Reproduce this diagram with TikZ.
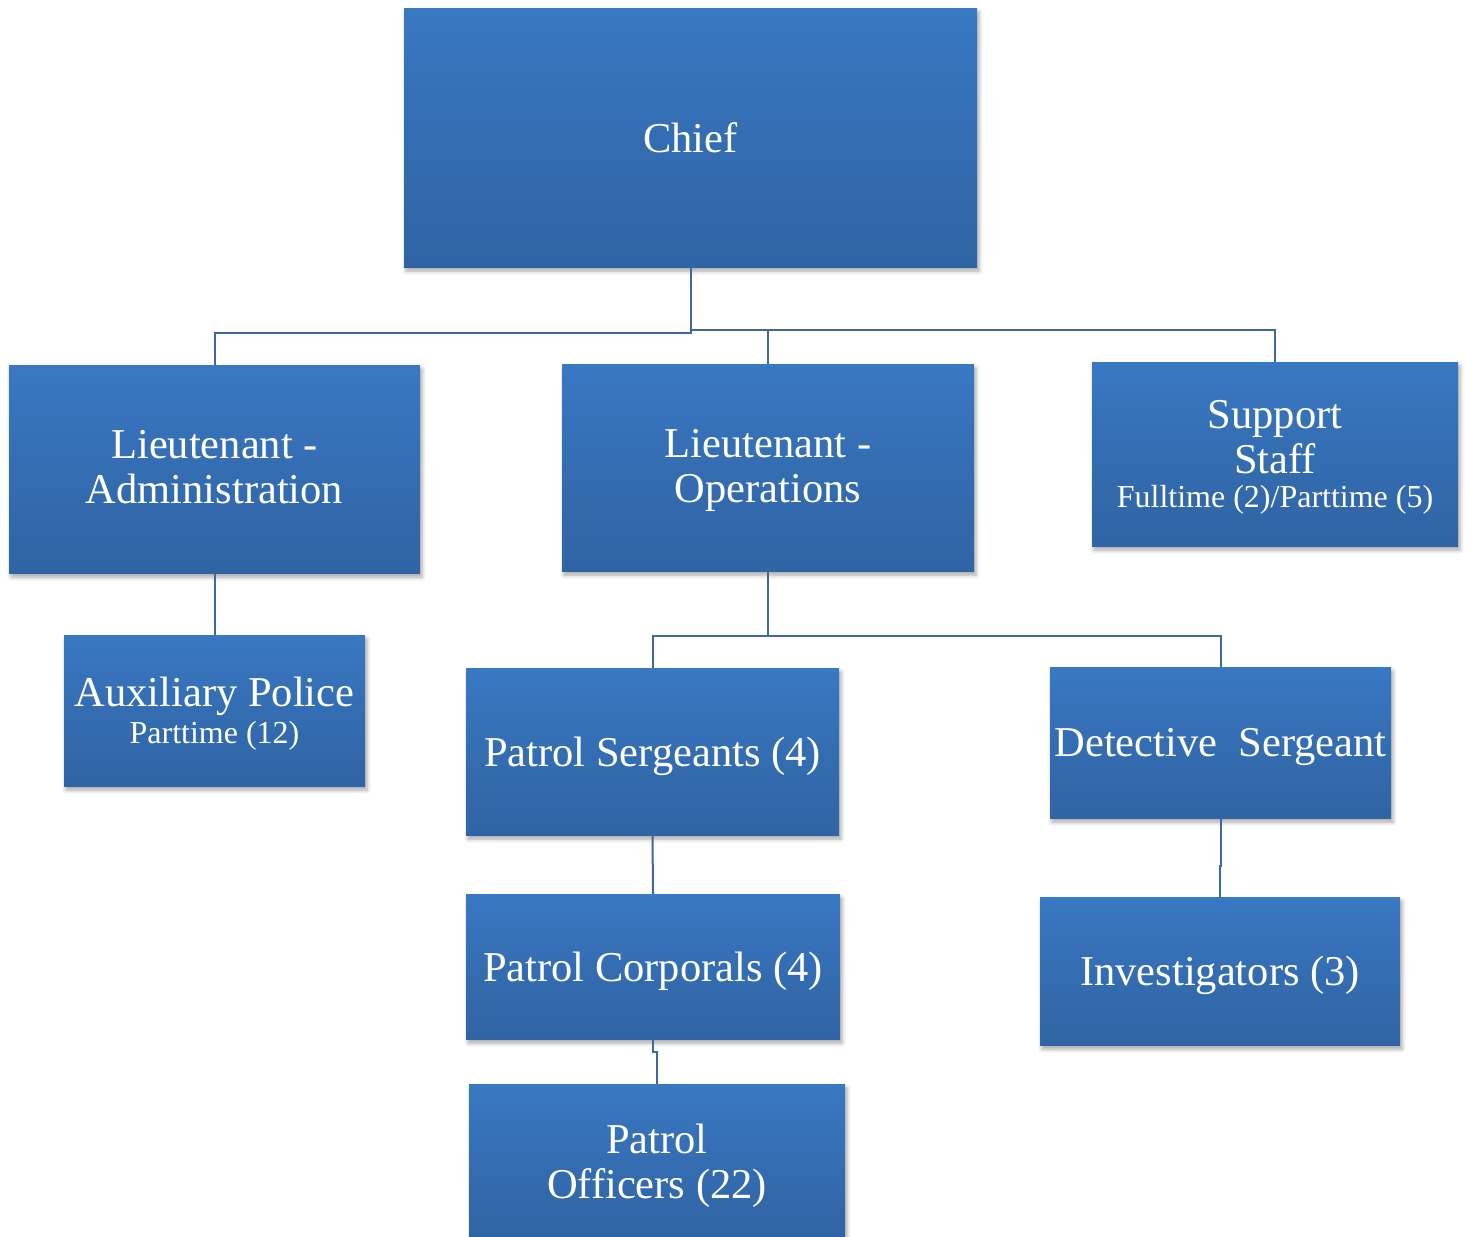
\documentclass[tikz,border=0pt]{standalone}
\usepackage{fontspec}
\setmainfont{Liberation Serif}
\usetikzlibrary{shadows.blur}

% vertical fill of the boxes: light blue at the top, darker blue at the bottom
\pgfdeclareverticalshading{orgfill}{100bp}{%
  rgb(0bp)=(0.176,0.365,0.600);
  rgb(6bp)=(0.176,0.368,0.604);
  rgb(50bp)=(0.204,0.427,0.698);
  rgb(84bp)=(0.231,0.486,0.788);
  rgb(100bp)=(0.231,0.486,0.788)}

\definecolor{linkblue}{RGB}{64,104,160}

\tikzset{
  orgbox/.style={rectangle, inner sep=0pt, shading=orgfill, text=white,
    align=center, font=\fontsize{42.5}{45}\selectfont,
    blur shadow={shadow xshift=2pt, shadow yshift=-4pt,
                 shadow blur radius=4pt, shadow opacity=35}},
  oneline/.style={text depth=0pt},
  boxtext/.style={inner sep=0pt, text=white, align=center,
    font=\fontsize{42.5}{45}\selectfont},
  link/.style={draw=linkblue, line width=2pt}
}
\newcommand{\subline}[1]{{\fontsize{32}{36}\selectfont #1}}

\begin{document}
\begin{tikzpicture}[x=1pt, y=-1pt]
\useasboundingbox (0,0) rectangle (1465,1237);

% boxes with a single line of text
\node[orgbox, minimum width=573pt, minimum height=259pt] (chief) at (690.5,137.5) {Chief};
\node[orgbox, oneline, minimum width=373pt, minimum height=167pt] (psgt) at (652.5,751.5) {Patrol Sergeants (4)};
\node[orgbox, oneline, minimum width=341pt, minimum height=151pt] (dsgt) at (1220.5,742.5) {Detective\ \ Sergeant};
\node[orgbox, oneline, minimum width=374pt, minimum height=145pt] (pcpl) at (653,966.5) {Patrol Corporals (4)};
\node[orgbox, oneline, minimum width=360pt, minimum height=148pt] (invest) at (1220,971) {Investigators (3)};

% boxes with several lines of text
\node[orgbox, minimum width=411pt, minimum height=208pt] (ltadm) at (214.5,469) {};
\node[orgbox, minimum width=412pt, minimum height=207pt] (ltops) at (768,467.5) {};
\node[orgbox, minimum width=366pt, minimum height=184pt] (support) at (1275,454) {};
\node[orgbox, minimum width=301pt, minimum height=151pt] (aux) at (214.5,710.5) {};
\node[orgbox, minimum width=376pt, minimum height=154pt] (poff) at (657,1161) {};

\node[boxtext] (ltadm-t) at ([yshift=1.5pt]ltadm.center) {Lieutenant -\\Administration};
\node[boxtext] (ltops-t) at ([yshift=-2.5pt]ltops.center) {Lieutenant -\\Operations};
\node[boxtext] (support-t) at ([yshift=-3.5pt]support.center)
  {Support\\Staff\\[-11pt]\subline{Fulltime (2)/Parttime (5)}};
\node[boxtext] (aux-t) at ([yshift=-3pt]aux.center)
  {Auxiliary Police\\[-8pt]\subline{Parttime (12)}};
\node[boxtext] (poff-t) at ([yshift=-4.5pt]poff.center) {Patrol\\Officers (22)};

% bus lines
\coordinate (busleft) at (0,333);
\coordinate (busright) at (0,330);
\coordinate (busops) at (0,636);

% connectors
\draw[link] (chief.south) -- (chief.south |- busleft) -| (ltadm.north);
\draw[link] (chief.south |- busright) -| (support.north);
\draw[link] (ltops.north |- busright) -- (ltops.north);
\draw[link] (ltadm.south) -- (aux.north);
\draw[link] (ltops.south) -- (ltops.south |- busops) -| (psgt.north);
\draw[link] (ltops.south |- busops) -| (dsgt.north);
\draw[link] (psgt.south) -- (pcpl.north);
\draw[link] (pcpl.south) -- ++(0,13) -| (poff.north);
\draw[link] (dsgt.south) -- ++(0,48) -| (invest.north);
\end{tikzpicture}
\end{document}
